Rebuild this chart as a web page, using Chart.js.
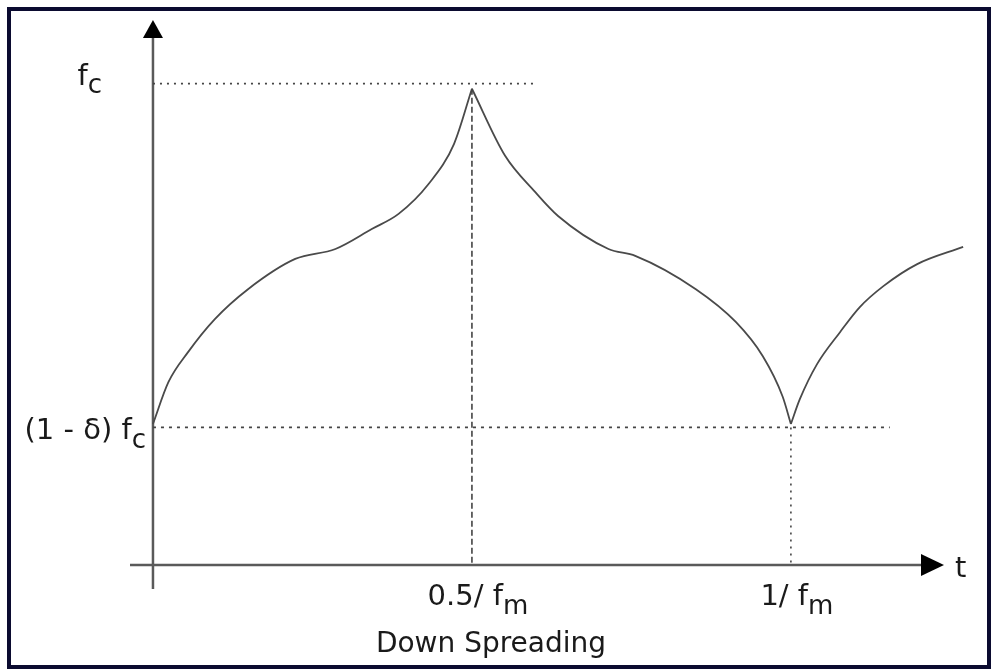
<!DOCTYPE html>
<html>
<head>
<meta charset="utf-8">
<script src="https://cdn.jsdelivr.net/npm/chart.js@4.4.1/dist/chart.umd.min.js"></script>
<style>
  html, body { margin: 0; padding: 0; background: #fff; }
  #wrap { position: relative; width: 993px; height: 669px; overflow: hidden; }
  #frame { position: absolute; left: 7px; top: 7px; width: 984px; height: 662px; box-sizing: border-box; border: 4px solid #0b0b30; pointer-events: none; }
  canvas { position: absolute; left: 0; top: 0; }
</style>
</head>
<body>
<div id="wrap">
  <canvas id="c" width="993" height="669"></canvas>
  <div id="frame"></div>
</div>
<script>
// time in units of 1/fm
const timeValues = [0, 0.024, 0.055, 0.097, 0.149, 0.223, 0.286, 0.343, 0.385, 0.432, 0.472, 0.5,
                    0.552, 0.599, 0.635, 0.714, 0.756, 0.851, 0.914, 0.956, 0.987, 1.0,
                    1.014, 1.041, 1.077, 1.108, 1.145, 1.198, 1.27];
// frequency: 0 = (1 - δ) fc, 1 = fc
const freqValues = [0.01, 0.131, 0.219, 0.315, 0.402, 0.49, 0.519, 0.577, 0.621, 0.708, 0.825, 0.985,
                    0.79, 0.685, 0.615, 0.519, 0.499, 0.402, 0.306, 0.207, 0.09, 0.01,
                    0.082, 0.184, 0.277, 0.35, 0.411, 0.475, 0.525];

const fcLevel = 1.0;
const lowLevel = 0.0;
const fcGuideEnd = 0.6;
const lowGuideEnd = 1.155;
const peakTime = 0.5;
const peakFreq = 0.985;
const periodTime = 1.0;
const xAxisLevel = -0.4;

const tickValues = [0.5, 1.0];
const tickMain = ['0.5/ f', '1/ f'];
const tickSub = ['m', 'm'];
const yLabelMain = ['f', '(1 - \u03B4) f'];
const yLabelSub = ['c', 'c'];
const yLabelValues = [1.0, 0.0];
const axisName = 't';
const captionText = 'Down Spreading';

const xMin = -0.036, xMax = 1.24;
const yMin = -0.47, yMax = 1.185;

const points = timeValues.map((t, i) => ({ x: t, y: freqValues[i] }));
const iPeak = timeValues.indexOf(peakTime);
const iTrough = timeValues.indexOf(periodTime);
const curveParts = [points.slice(0, iPeak + 1), points.slice(iPeak, iTrough + 1), points.slice(iTrough)];

const FONT = '"DejaVu Sans", sans-serif';

const diagramPlugin = {
  id: 'diagram',
  beforeDatasetsDraw(chart) {
    const { ctx, scales: { x, y } } = chart;
    ctx.save();
    ctx.strokeStyle = '#5a5a5a';
    ctx.fillStyle = '#000';
    ctx.lineWidth = 2.5;
    const x0 = x.getPixelForValue(0);
    const yTop = y.getPixelForValue(yMax);
    const yBot = y.getPixelForValue(yMin);
    ctx.beginPath();
    ctx.moveTo(x0, yBot);
    ctx.lineTo(x0, yTop + 16);
    ctx.stroke();
    ctx.beginPath();
    ctx.moveTo(x0, yTop);
    ctx.lineTo(x0 - 10, yTop + 18);
    ctx.lineTo(x0 + 10, yTop + 18);
    ctx.closePath();
    ctx.fill();
    const ya = y.getPixelForValue(xAxisLevel);
    const xL = x.getPixelForValue(xMin);
    const xR = x.getPixelForValue(xMax);
    ctx.beginPath();
    ctx.moveTo(xL, ya);
    ctx.lineTo(xR - 20, ya);
    ctx.stroke();
    ctx.beginPath();
    ctx.moveTo(xR, ya);
    ctx.lineTo(xR - 23, ya - 11);
    ctx.lineTo(xR - 23, ya + 11);
    ctx.closePath();
    ctx.fill();
    ctx.restore();
  },
  afterDraw(chart) {
    const { ctx, scales: { x, y } } = chart;
    ctx.save();
    ctx.fillStyle = '#1a1a1a';
    ctx.textBaseline = 'alphabetic';
    ctx.textAlign = 'left';
    const main = '29px ' + FONT;
    const sub = '26px ' + FONT;
    const ya = y.getPixelForValue(xAxisLevel);
    // x tick labels
    tickValues.forEach((v, i) => {
      ctx.font = main;
      const w1 = ctx.measureText(tickMain[i]).width;
      ctx.font = sub;
      const w2 = ctx.measureText(tickSub[i]).width;
      const cx = x.getPixelForValue(v);
      const start = cx - (w1 + w2) / 2 + 6;
      ctx.font = main;
      ctx.fillText(tickMain[i], start, ya + 40);
      ctx.font = sub;
      ctx.fillText(tickSub[i], start + w1, ya + 49);
    });
    // y labels
    const x0 = x.getPixelForValue(0);
    yLabelValues.forEach((v, i) => {
      const py = y.getPixelForValue(v);
      ctx.font = sub;
      const w2 = ctx.measureText(yLabelSub[i]).width;
      ctx.font = main;
      const w1 = ctx.measureText(yLabelMain[i]).width;
      const right = i === 0 ? x0 - 51 : x0 - 7;
      const start = right - w1 - w2;
      ctx.fillText(yLabelMain[i], start, py + (i === 0 ? 1 : 12));
      ctx.font = sub;
      ctx.fillText(yLabelSub[i], start + w1, py + (i === 0 ? 9 : 21));
    });
    // axis name
    ctx.font = main;
    ctx.fillText(axisName, x.getPixelForValue(xMax) + 11, ya + 12);
    // caption
    ctx.font = '28px ' + FONT;
    ctx.textAlign = 'center';
    ctx.fillText(captionText, 491, 652);
    ctx.restore();
  }
};

const guideStyle = { showLine: true, borderColor: '#444', borderWidth: 1.6, pointRadius: 0 };
const curveStyle = { showLine: true, borderColor: '#4a4a4a', borderWidth: 1.8, pointRadius: 0,
                     cubicInterpolationMode: 'monotone', clip: false };

new Chart(document.getElementById('c'), {
  type: 'scatter',
  data: {
    datasets: [
      Object.assign({ label: 'fc guide', data: [{ x: 0, y: fcLevel }, { x: fcGuideEnd, y: fcLevel }], borderDash: [2, 5] }, guideStyle),
      Object.assign({ label: 'low guide', data: [{ x: 0, y: lowLevel }, { x: lowGuideEnd, y: lowLevel }], borderDash: [3, 5] }, guideStyle),
      Object.assign({ label: 'half period', data: [{ x: peakTime, y: peakFreq }, { x: peakTime, y: xAxisLevel }], borderDash: [6, 3] }, guideStyle),
      Object.assign({ label: 'period', data: [{ x: periodTime, y: lowLevel }, { x: periodTime, y: xAxisLevel }], borderDash: [2, 5] }, guideStyle),
      Object.assign({ label: 'rise', data: curveParts[0] }, curveStyle),
      Object.assign({ label: 'fall', data: curveParts[1] }, curveStyle),
      Object.assign({ label: 'rise 2', data: curveParts[2] }, curveStyle)
    ]
  },
  options: {
    responsive: false,
    devicePixelRatio: 1,
    animation: false,
    layout: { padding: { left: 130, right: 49, top: 20, bottom: 80 } },
    plugins: { legend: { display: false }, tooltip: { enabled: false }, title: { display: false } },
    scales: {
      x: { type: 'linear', min: xMin, max: xMax, display: false },
      y: { type: 'linear', min: yMin, max: yMax, display: false }
    }
  },
  plugins: [diagramPlugin]
});
</script>
</body>
</html>
